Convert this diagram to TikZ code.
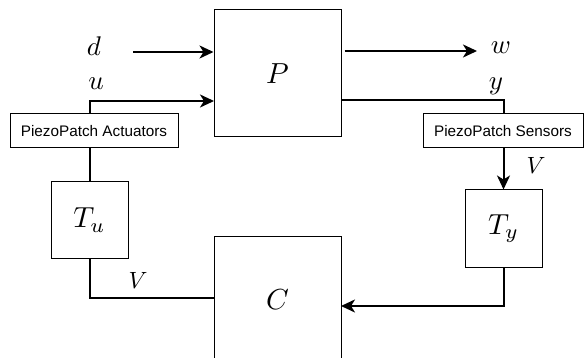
\documentclass[tikz,border=0pt]{standalone}
\usepackage{fontspec}
\setsansfont{Liberation Sans}
\usetikzlibrary{arrows.meta,calc}

% math symbols set at 10pt and scaled to the wanted size
\newcommand{\bigmath}[1]{\scalebox{2.9}{$#1$}}
\newcommand{\midmath}[1]{\scalebox{2.7}{$#1$}}
\newcommand{\smallmath}[1]{\scalebox{2.35}{$#1$}}

\tikzset{
  block/.style={draw, line width=1pt, inner sep=0pt, minimum width=#1, minimum height=#1},
  patch/.style={draw, line width=1pt, inner sep=0pt, minimum height=34pt,
    font=\sffamily\fontsize{15.3}{16}\selectfont},
  wire/.style={line width=2pt},
  sig/.style={wire, -{Stealth[length=14pt, width=13pt, inset=4pt]}},
  lbl/.style={inner sep=0pt},
}

\begin{document}
\begin{tikzpicture}[x=1pt, y=-1pt]
  \useasboundingbox (0,0) rectangle (586,358);
  \begin{scope}
    \clip (0,0) rectangle (586,358);

    % blocks
    \node[block=127pt] (P) at (277.5,73.5) {\bigmath{P}};
    \node[block=127pt] (C) at (277.5,299.5) {\bigmath{C}};
    \node[block=77pt] (Tu) at (89.5,220) {\bigmath{T_u}};
    \node[block=77pt] (Ty) at (503.5,228.5) {\bigmath{T_y}};

    % piezo patches
    \node[patch, minimum width=168pt] (act) at (94,131) {PiezoPatch Actuators};
    \node[patch, minimum width=160pt] (sen) at (503,131) {PiezoPatch Sensors};

    % exogenous signals
    \coordinate (dstart) at (133,52);
    \coordinate (wend) at (477,51);
    \draw[sig] (dstart) -- (P.west |- dstart);
    \draw[sig, shorten <=3pt] (P.east |- wend) -- (wend);
    \node[lbl] (dl) at (94,46) {\midmath{d}};
    \node[lbl] (wl) at (501,47.5) {\midmath{w}};

    % actuator side
    \coordinate (uin) at (214,101);
    \draw[sig] (Tu.north |- act.north) |- (uin);
    \draw[wire] (Tu.north) -- (Tu.north |- act.south);
    \coordinate (cin) at (214,298);
    \draw[wire] (Tu.south) |- (cin);
    \node[lbl] (ul) at (96,84) {\midmath{u}};
    \node[lbl] (vl) at (138,280) {\smallmath{V}};

    % sensor side
    \coordinate (yout) at (341,100);
    \draw[wire] (yout) -| (Ty.north |- sen.north);
    \draw[sig] (Ty.north |- sen.south) -- (Ty.north);
    \coordinate (cout) at (341,306);
    \draw[sig] (Ty.south) |- (cout);
    \node[lbl] (yl) at (496,86) {\midmath{y}};
    \node[lbl] (vr) at (536,165) {\smallmath{V}};
  \end{scope}
\end{tikzpicture}
\end{document}
